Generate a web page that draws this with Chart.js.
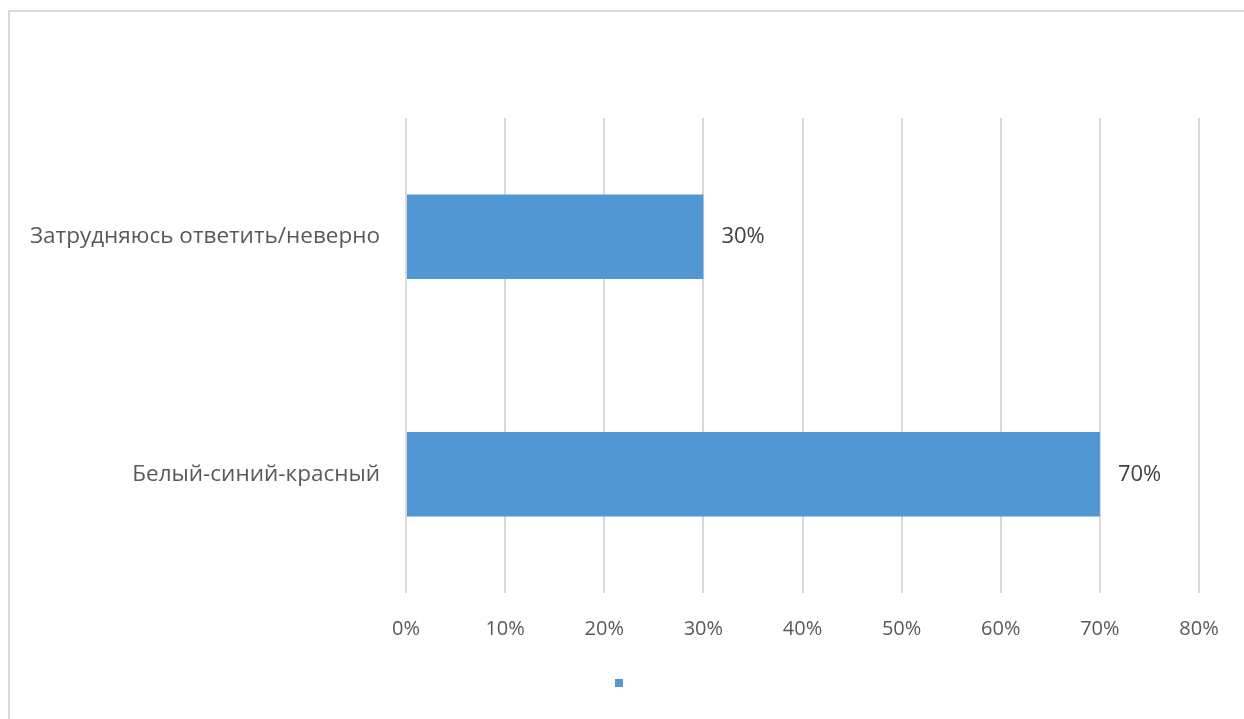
<!DOCTYPE html>
<html>
<head>
<meta charset="utf-8">
<script src="https://cdn.jsdelivr.net/npm/chart.js@4"></script>
<style>
  html, body { margin: 0; padding: 0; background: #fff; overflow: hidden; }
  #frame { position: absolute; left: 8px; top: 10px; width: 1260px; height: 740px; border: 2px solid #d9d9d9; }
  #wrap { position: absolute; left: 0; top: 0; width: 1244px; height: 719px; }
</style>
</head>
<body>
<div id="frame"></div>
<div id="wrap"><canvas id="chart" width="1244" height="719"></canvas></div>
<script>
// --- 데이터 ---
const categories = ["Затрудняюсь ответить/неверно", "Белый-синий-красный"];
const values = [0.30, 0.70];
const xTicks = [0, 0.1, 0.2, 0.3, 0.4, 0.5, 0.6, 0.7, 0.8];

const C = {
  bar:  "#5197d3",
  grid: "#d9d9d9",
  tick: "#595959",
  label: "#404040",
};

// 막대 끝 값 라벨 (datalabels 플러그인 없음)
const endLabels = {
  id: "endLabels",
  afterDatasetsDraw(chart) {
    const { ctx } = chart;
    const meta = chart.getDatasetMeta(0);
    ctx.save();
    ctx.font = "22px 'Open Sans', sans-serif";
    ctx.fillStyle = C.label;
    ctx.textAlign = "left";
    ctx.textBaseline = "middle";
    meta.data.forEach((bar, i) => {
      ctx.fillText(Math.round(values[i] * 100) + "%", bar.x + 18, bar.y);
    });
    ctx.restore();
  },
};

new Chart(document.getElementById("chart"), {
  type: "bar",
  data: {
    labels: categories,
    datasets: [{
      label: "",
      data: values,
      backgroundColor: C.bar,
      borderWidth: 0,
      categoryPercentage: 1,
      barPercentage: 0.355,
    }],
  },
  options: {
    indexAxis: "y",
    responsive: false,
    animation: false,
    layout: { padding: { left: 0, right: 0, top: 118, bottom: 20 } },
    plugins: {
      tooltip: { enabled: false },
      legend: {
        position: "bottom",
        labels: { boxWidth: 8, boxHeight: 8, padding: 10, font: { size: 12 } },
      },
    },
    scales: {
      x: {
        min: 0, max: 0.8,
        afterBuildTicks(scale) { scale.ticks = xTicks.map((v) => ({ value: v })); },
        afterFit(scale) { scale.height = 74; },
        grid: { color: C.grid, lineWidth: 2, drawTicks: false },
        border: { display: false },
        ticks: {
          padding: 24,
          color: C.tick,
          font: { family: "'Open Sans', sans-serif", size: 20 },
          callback: (v) => Math.round(v * 100) + "%",
        },
      },
      y: {
        afterFit(scale) { scale.width = 406; },
        grid: { display: false, drawTicks: false },
        border: { display: false },
        ticks: {
          padding: 26,
          color: C.tick,
          font: { family: "'Open Sans', sans-serif", size: 22.5 },
        },
      },
      // 오른쪽 여백용 빈 축 (범례가 전체 폭 중앙에 오도록)
      yPad: {
        position: "right",
        afterFit(scale) { scale.width = 45; },
        grid: { display: false, drawTicks: false },
        border: { display: false },
        ticks: { display: false },
      },
    },
  },
  plugins: [endLabels],
});
</script>
</body>
</html>
